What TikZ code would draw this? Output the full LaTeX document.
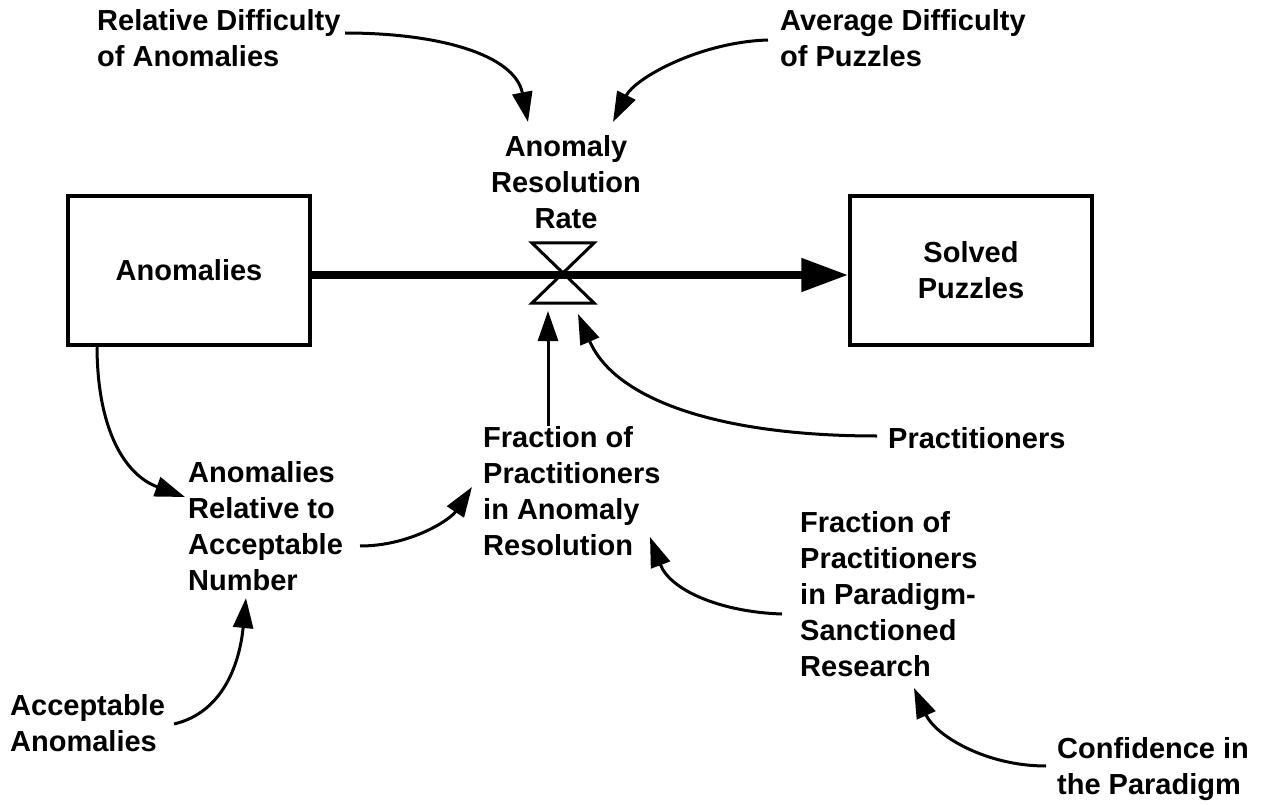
\documentclass[tikz,border=0pt]{standalone}
\usepackage{fontspec}
\setmainfont{Liberation Sans}
\usetikzlibrary{arrows.meta}
\begin{document}
\begin{tikzpicture}[x=1pt,y=-1pt,
  lbl/.style={font=\bfseries\fontsize{29}{36}\selectfont, align=left, inner sep=0pt, anchor=north west},
  stock/.style={draw, line width=3.5pt, minimum width=242pt, minimum height=149pt, inner sep=0pt,
    font=\bfseries\fontsize{29}{36}\selectfont, align=center},
  link/.style={line width=3pt, -{Triangle[length=30pt,width=20pt]}},
  flowline/.style={line width=8pt, -{Triangle[length=47pt,width=32pt]}},
  valveline/.style={line width=3pt, line join=miter}]
\useasboundingbox (0,0) rectangle (1269,805);

% stocks
\node[stock] (anom) at (189,270.5) {Anomalies};
\node[stock] (solved) at (971,270.5) {Solved\\Puzzles};

% rate valve
\coordinate (valve) at (563,273);
\node[lbl, anchor=north, align=center] (rate) at (566,135) {Anomaly\\Resolution\\Rate};

% auxiliaries and constants
\node[lbl] (reldiff) at (97,9) {Relative Difficulty\\of Anomalies};
\node[lbl] (avgdiff) at (780,9) {Average Difficulty\\of Puzzles};
\node[lbl] (frac) at (483,426) {Fraction of\\Practitioners\\in Anomaly\\Resolution};
\node[lbl] (pract) at (888,427) {Practitioners};
\node[lbl] (anomrel) at (188,461) {Anomalies\\Relative to\\Acceptable\\Number};
\node[lbl] (paradigm) at (800,511) {Fraction of\\Practitioners\\in Paradigm-\\Sanctioned\\Research};
\node[lbl] (accept) at (10,694) {Acceptable\\Anomalies};
\node[lbl] (conf) at (1057,737) {Confidence in\\the Paradigm};

% connector end points
\coordinate (reldiffout) at (345,33);
\coordinate (ratein1) at (528,122);
\coordinate (avgdiffout) at (768,40);
\coordinate (ratein2) at (613,122);
\coordinate (valvein1) at (548,311);
\coordinate (valvein2) at (578,314);
\coordinate (practout) at (877,436);
\coordinate (anomout) at (97,345);
\coordinate (anomrelin) at (185,497);
\coordinate (anomrelout) at (360,546);
\coordinate (fracin1) at (472,487);
\coordinate (paradigmout) at (782,614);
\coordinate (fracin2) at (650,537);
\coordinate (acceptout) at (174,724);
\coordinate (anomrelin2) at (246,598);
\coordinate (confout) at (1046,766);
\coordinate (paradigmin) at (914,688);

% material flow through the valve
\draw[flowline] (anom.east |- 0,275) -- (solved.west |- 0,275);
\draw[valveline] (valve) ++(-31,-30) -- ++(62,0) -- ++(-62,60) -- ++(62,0) -- cycle;

% information links
\draw[link] (reldiffout) .. controls (440,33) and (515,55) .. (ratein1);
\draw[link] (avgdiffout) .. controls (700,42) and (635,78) .. (ratein2);
\draw[link] (frac.north -| valvein1) -- (valvein1);
\draw[link] (practout) .. controls (720,436) and (615,400) .. (valvein2);
\draw[link] (anomout) .. controls (97,430) and (125,475) .. (anomrelin);
\draw[link] (anomrelout) .. controls (410,546) and (450,520) .. (fracin1);
\draw[link] (paradigmout) .. controls (720,612) and (670,590) .. (fracin2);
\draw[link] (acceptout) .. controls (225,712) and (240,660) .. (anomrelin2);
\draw[link] (confout) .. controls (985,766) and (935,735) .. (paradigmin);
\end{tikzpicture}
\end{document}
